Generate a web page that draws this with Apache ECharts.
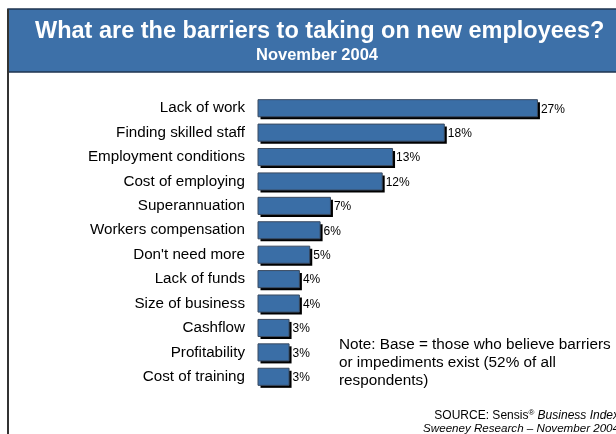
<!DOCTYPE html>
<html>
<head>
<meta charset="utf-8">
<script src="https://cdn.jsdelivr.net/npm/echarts@6/dist/echarts.min.js"></script>
<style>
html,body{margin:0;padding:0;background:#fff;}
#chart{width:616px;height:434px;}
</style>
</head>
<body>
<div id="chart"></div>
<script>
// Barriers to taking on new employees, share of respondents (%)
const categories = [
  'Lack of work',
  'Finding skilled staff',
  'Employment conditions',
  'Cost of employing',
  'Superannuation',
  'Workers compensation',
  "Don't need more",
  'Lack of funds',
  'Size of business',
  'Cashflow',
  'Profitability',
  'Cost of training'
];
const shares = [27, 18, 13, 12, 7, 6, 5, 4, 4, 3, 3, 3];

const titleText = 'What are the barriers to taking on new employees?';
const subtitleText = 'November 2004';
const noteLines = [
  'Note: Base = those who believe barriers',
  'or impediments exist (52% of all',
  'respondents)'
];

const chart = echarts.init(document.getElementById('chart'), null, {renderer: 'canvas'});

const FONT = 'Liberation Sans, Arial, sans-serif';

// bar with a hard black drop shadow to the lower right, plus its value label
function renderBar(params, api) {
  const val = api.value(0);
  const idx = api.value(1);
  const start = api.coord([0, idx]);
  const end = api.coord([val, idx]);
  const h = api.size([0, 1])[1] * 0.7;
  const x = start[0];
  const y = start[1] - h / 2;
  const w = end[0] - start[0];
  return {
    type: 'group',
    children: [
      {type: 'rect', shape: {x: x + 2.5, y: y + 2.5, width: w, height: h},
       style: {fill: '#000000'}},
      {type: 'rect', shape: {x: x, y: y, width: w, height: h},
       style: {fill: '#3a6ea6', stroke: '#3a4a60', lineWidth: 1}},
      {type: 'text', style: {
        text: val + '%', x: end[0] + 3.5, y: end[1] + 1,
        verticalAlign: 'middle', align: 'left',
        fill: '#000', font: '12px ' + FONT}}
    ]
  };
}

chart.setOption({
  animation: false,
  backgroundColor: '#ffffff',
  graphic: [
    // header band
    {type: 'rect', z: 0, shape: {x: 8, y: 9, width: 610, height: 63},
     style: {fill: '#3d70a8', stroke: '#1f3550', lineWidth: 1.5}},
    // left frame line
    {type: 'line', z: 1, shape: {x1: 8, y1: 9, x2: 8, y2: 434},
     style: {stroke: '#333333', lineWidth: 2}},
    {type: 'text', z: 5, left: 35, top: 20,
     style: {text: titleText, fill: '#ffffff', font: 'bold 23.5px ' + FONT}},
    {type: 'text', z: 5, left: 256, top: 47,
     style: {text: subtitleText, fill: '#ffffff', font: 'bold 16.5px ' + FONT}},
    {type: 'text', z: 5, left: 339, top: 336,
     style: {text: noteLines.join('\n'), fill: '#000000', font: '15.3px ' + FONT, lineHeight: 18}},
    // source lines, each right-aligned and running off the right edge
    {type: 'text', z: 5, right: -3, top: 409,
     style: {
       text: '{n|SOURCE: Sensis}{sup|®}{i| Business Index}',
       rich: {
         n: {font: '12px ' + FONT, fill: '#000'},
         sup: {font: '8px ' + FONT, fill: '#000', verticalAlign: 'top', padding: [0, 0, 6, 0]},
         i: {font: 'italic 12px ' + FONT, fill: '#000'}
       }
     }},
    {type: 'text', z: 5, right: -3, top: 423,
     style: {text: 'Sweeney Research – November 2004', fill: '#000', font: 'italic 11.6px ' + FONT}}
  ],
  grid: {left: 258, top: 96, width: 310.5, height: 293, containLabel: false},
  xAxis: {
    type: 'value', min: 0, max: 30,
    show: false
  },
  yAxis: {
    type: 'category',
    data: categories,
    inverse: true,
    axisLine: {show: false},
    axisTick: {show: false},
    axisLabel: {color: '#000', fontFamily: FONT, fontSize: 15.2, margin: 13}
  },
  series: [{
    type: 'custom',
    renderItem: renderBar,
    encode: {x: 0, y: 1},
    data: shares.map((v, i) => [v, i])
  }]
});
</script>
</body>
</html>
